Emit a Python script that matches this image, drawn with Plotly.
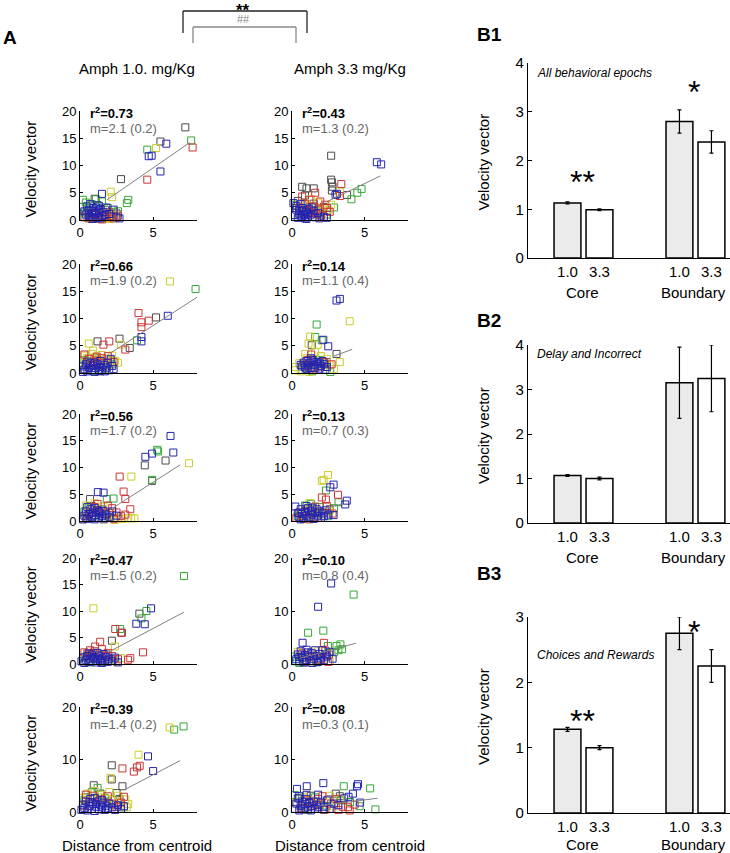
import plotly.graph_objects as go

# ---------------- data ----------------
# Panel A: velocity vector vs distance from centroid, per animal colour
r1L_k = [(7.2,17.0),(5.5,14.4),(2.8,7.5),(1.0,3.9),(0.5,1.3),(1.3,2.6),(2.0,0.8),(0.3,0.5),(1.7,1.9),(2.5,1.2),(0.8,0.2)]
r1L_g = [(7.6,14.6),(4.6,12.9),(3.3,3.7),(3.2,3.1),(0.2,3.7),(0.4,3.2),(0.8,2.9),(1.5,3.4),(1.1,3.8),(2.3,1.5),(0.2,2.4),(0.6,2.2),(1.9,2.2),(0.3,1.4),(2.6,1.6)]
r1L_y = [(5.2,13.2),(2.1,5.2),(2.2,4.2),(1.9,0.4),(2.2,0.9),(1.4,0.2),(0.9,0.3),(1.6,1.0),(2.4,0.6),(1.2,0.6),(2.0,0.2),(0.5,0.4),(1.7,0.3)]
r1L_r = [(7.7,13.3),(4.6,7.4),(1.8,0.5),(2.3,0.3),(1.1,0.4),(0.6,0.3),(2.0,1.4),(1.3,0.9),(2.6,0.8),(0.2,0.6),(1.5,0.1),(2.1,0.7),(0.9,1.1),(1.7,0.6)]
r1L_b = [(5.9,14.0),(4.9,11.8),(4.7,11.7),(5.5,8.9),(1.5,4.8),(0.4,1.0),(0.6,1.8),(0.7,0.6),(0.8,1.3),(0.9,2.2),(1.0,0.9),(1.1,1.6),(1.2,0.4),(1.3,1.2),(1.4,2.0),(1.5,0.7),(1.6,1.5),(0.5,2.5),(0.9,0.2),(1.2,2.7),(1.7,0.9),(2.0,1.1),(2.7,0.3),(0.3,1.6),(1.0,1.3),(0.7,2.9),(1.4,0.3),(1.8,2.3),(2.3,1.9),(0.6,0.8),(1.1,2.3),(0.8,0.5),(1.3,1.8),(2.5,0.5)]

r1R_k = [(2.7,11.8),(2.7,7.4),(2.75,6.9),(2.8,6.1),(2.75,5.4),(0.7,6.1),(1.0,5.8),(1.5,5.8),(3.8,4.6),(0.4,3.5),(0.9,4.5),(1.5,3.0),(2.2,2.4),(1.2,1.3),(0.3,2.2),(1.9,1.0)]
r1R_g = [(4.8,5.7),(4.5,5.0),(4.1,3.8),(2.9,2.3),(0.2,2.8),(1.0,2.2),(1.8,1.6),(2.4,1.0),(0.5,1.0),(1.4,0.6)]
r1R_y = [(3.3,5.2),(2.7,2.8),(1.3,3.8),(2.2,2.1),(1.8,3.2),(2.5,1.8),(1.0,2.9),(2.1,1.3),(0.7,1.5),(1.6,2.4)]
r1R_r = [(3.4,6.6),(1.6,5.0),(3.3,4.4),(0.7,4.3),(1.2,3.7),(1.95,3.4),(0.9,3.0),(1.5,2.5),(2.3,2.8),(0.5,2.3),(1.1,1.8),(1.8,1.9),(2.4,2.2),(0.8,1.2),(1.4,1.4),(2.0,0.8),(2.6,1.5),(1.7,1.1)]
r1R_b = [(5.85,10.6),(6.15,10.2),(3.1,4.8),(3.0,4.6),(0.1,3.1),(0.3,2.6),(0.5,1.6),(0.6,0.8),(0.7,2.2),(0.8,1.0),(0.9,0.3),(1.0,1.5),(1.1,0.6),(1.2,2.0),(0.4,0.4),(0.5,1.2),(0.6,2.9),(0.8,1.8),(0.9,0.9),(1.0,0.2),(1.3,1.0),(1.4,2.3),(1.6,0.5),(1.8,1.3),(2.2,0.6),(2.4,0.4),(0.3,1.9),(0.7,0.5),(1.1,1.2),(1.5,1.7),(0.2,0.9),(1.9,0.3)]

r2L_k = [(5.2,10.2),(1.2,5.8),(2.7,6.3),(3.4,4.6),(0.5,1.9),(1.0,2.7),(1.6,1.2),(2.1,2.3),(0.3,0.7),(1.4,0.3)]
r2L_g = [(7.9,15.4),(3.9,6.0),(0.3,2.4),(0.7,1.8),(1.3,2.2),(1.8,0.8),(2.2,1.6),(0.9,0.4)]
r2L_y = [(6.15,16.8),(2.8,5.2),(0.6,5.4),(0.9,4.1),(2.6,1.9),(0.3,3.2),(0.5,2.8),(0.8,3.5),(1.1,3.0),(1.3,2.4),(1.5,3.3),(0.4,2.0),(1.8,2.6),(2.2,3.2),(2.4,2.2),(1.0,1.6),(2.0,1.4)]
r2L_r = [(4.0,11.0),(4.2,9.3),(4.7,9.6),(4.2,8.4),(2.0,5.8),(1.6,5.2),(3.1,4.3),(0.3,3.4),(1.15,3.0),(1.5,2.7),(1.2,2.3),(1.0,2.0),(0.6,2.6),(1.9,3.1),(1.4,1.8),(2.3,2.0),(0.8,1.5)]
r2L_b = [(6.0,10.5),(4.2,6.6),(4.2,5.8),(2.1,2.6),(0.2,1.2),(0.3,0.6),(0.4,1.6),(0.5,0.3),(0.6,1.0),(0.7,1.8),(0.8,0.5),(0.9,1.3),(1.0,0.2),(1.1,0.9),(1.2,1.6),(1.3,0.4),(1.4,1.1),(1.5,0.6),(1.6,1.5),(1.7,0.3),(1.8,1.0),(2.0,0.5),(2.2,1.3),(2.3,0.7),(0.5,2.1),(1.0,1.9),(1.4,2.2),(0.8,0.9),(1.9,1.9),(0.2,0.2)]

r2R_k = [(1.36,5.1),(3.07,3.5),(0.8,1.6),(1.5,2.5),(2.0,1.3),(1.2,0.9),(2.4,2.0)]
r2R_g = [(1.7,8.9),(1.6,6.6),(2.05,6.0),(2.64,0.2),(1.0,1.0),(1.9,2.4),(2.3,1.7),(0.7,0.6),(1.4,0.3)]
r2R_y = [(3.98,9.5),(1.25,6.7),(1.77,5.2),(1.14,5.4),(0.91,3.5),(3.3,2.0),(0.23,1.1),(2.16,1.1),(0.2,0.5),(0.5,1.8),(1.6,3.8),(2.0,3.1),(2.6,1.4),(2.9,0.7),(1.2,0.2),(0.6,0.3),(2.4,2.6),(1.0,2.7)]
r2R_r = [(1.32,3.4),(2.73,1.6),(1.1,2.4),(1.8,1.2),(2.2,2.0),(0.9,1.4),(1.5,0.8)]
r2R_b = [(3.07,13.3),(3.3,13.6),(2.16,6.1),(2.5,4.9),(0.6,1.5),(0.8,1.9),(0.9,1.0),(1.0,2.2),(1.1,1.4),(1.2,1.8),(1.3,0.9),(1.4,2.4),(1.5,1.5),(1.6,1.0),(1.7,2.0),(1.8,1.7),(1.9,0.8),(2.0,1.3),(2.1,2.2),(2.2,1.6),(2.4,1.1),(1.0,0.7),(1.3,2.7),(0.7,1.2),(1.5,2.1),(1.9,1.9),(2.3,0.6)]

r3L_k = [(4.43,10.4),(5.85,11.3),(4.93,7.5),(0.69,4.1),(1.2,2.0),(0.4,0.6),(2.0,1.5),(1.6,0.3),(0.8,2.8)]
r3L_g = [(5.28,13.3),(5.34,13.0),(4.93,7.7),(1.83,4.1),(2.29,4.2),(0.3,1.8),(0.9,0.9),(1.5,2.2),(2.1,0.7),(0.6,2.5)]
r3L_y = [(7.45,10.8),(3.51,8.3),(3.72,0.5),(3.5,0.5),(3.3,0.5),(2.9,0.4),(2.6,0.6),(0.2,0.3),(0.6,0.5),(1.0,3.3),(1.6,2.7),(2.2,1.2),(0.4,2.9),(2.4,0.2),(1.9,0.6)]
r3L_r = [(2.71,8.3),(2.98,5.5),(3.1,4.1),(3.44,2.2),(1.9,2.9),(2.5,1.6),(2.2,2.4),(1.4,1.9),(1.0,2.6),(0.7,1.5),(2.8,0.9),(3.1,1.2),(1.7,1.3),(2.3,0.4),(0.5,0.9),(1.2,3.2)]
r3L_b = [(6.19,15.9),(6.38,12.8),(4.47,12.0),(4.93,12.6),(1.61,5.3),(1.22,5.4),(0.3,1.0),(0.4,1.8),(0.5,0.4),(0.6,1.3),(0.7,2.2),(0.8,0.7),(0.9,1.6),(1.0,0.3),(1.1,1.1),(1.2,2.0),(1.3,0.6),(1.4,1.4),(1.5,0.9),(1.6,1.9),(1.7,0.5),(1.8,1.2),(2.0,0.8),(0.5,2.6),(1.0,2.4),(1.3,1.7),(0.8,1.0),(2.2,1.8),(2.5,1.0),(0.2,0.3)]

r3R_k = [(0.5,1.6),(1.1,2.2),(1.6,0.8),(2.2,1.6),(0.8,0.4),(2.6,2.2)]
r3R_g = [(2.34,5.7),(3.21,3.5),(0.9,2.9),(1.3,3.2),(1.9,2.6),(0.4,0.9),(1.7,1.5),(2.5,0.9),(2.9,2.4),(1.1,0.6)]
r3R_y = [(2.48,8.6),(2.18,7.7),(2.06,7.5),(1.2,3.4),(1.5,2.2),(2.0,1.2),(0.6,1.2),(2.6,1.9),(1.0,0.4)]
r3R_r = [(3.17,4.9),(2.06,4.4),(2.34,4.0),(0.3,0.6),(0.7,0.9),(1.3,1.4),(1.8,0.6),(2.4,2.8),(1.6,2.7),(0.9,1.9),(2.8,1.4),(1.2,0.3)]
r3R_b = [(2.87,6.8),(2.64,6.3),(3.78,3.8),(3.67,3.1),(0.23,2.7),(2.87,1.1),(0.4,1.5),(0.5,0.7),(0.6,2.2),(0.7,1.3),(0.8,0.5),(0.9,1.7),(1.0,1.0),(1.1,2.4),(1.2,0.7),(1.3,1.9),(1.4,1.2),(1.5,0.4),(1.6,1.6),(1.7,2.2),(1.8,1.0),(1.9,1.8),(2.0,0.6),(2.1,1.4),(2.3,2.0),(2.5,1.2),(1.0,2.8),(0.6,0.3),(1.4,2.5),(2.2,0.9)]

r4L_k = [(4.06,9.5),(2.82,5.9),(2.18,4.4),(0.5,1.5),(1.2,0.6),(1.8,1.8),(0.9,2.1),(2.3,0.9)]
r4L_g = [(7.11,16.6),(4.2,8.6),(4.54,10.0),(2.75,6.6),(0.3,1.3),(1.0,1.0),(1.6,0.4),(0.7,0.3)]
r4L_y = [(0.92,10.5),(2.39,3.3),(2.82,1.1),(0.3,0.3),(1.3,1.6),(2.0,0.8),(2.5,0.4),(0.6,1.9)]
r4L_r = [(2.41,6.6),(2.87,5.9),(1.38,4.2),(1.03,3.3),(0.69,2.6),(4.31,2.2),(3.44,1.1),(3.28,0.8),(0.5,2.0),(1.0,2.4),(1.5,2.8),(1.9,2.1),(2.2,1.5),(0.8,1.4),(1.4,0.9),(2.6,0.9),(0.3,2.2),(1.7,1.5)]
r4L_b = [(4.86,10.5),(3.85,7.6),(4.43,7.5),(0.1,0.5),(0.2,1.2),(0.3,0.2),(0.4,0.8),(0.5,1.5),(0.6,0.4),(0.7,1.0),(0.8,1.8),(0.9,0.6),(1.0,1.3),(1.1,0.3),(1.2,0.9),(1.3,1.6),(1.4,0.5),(1.5,1.1),(1.6,1.9),(1.7,0.7),(1.8,1.3),(1.9,0.4),(2.0,1.0),(2.2,0.6),(2.4,1.2),(2.6,0.3),(0.6,2.0),(1.2,2.1),(0.9,1.1),(1.5,0.2)]

r4R_k = [(0.6,1.4),(1.3,2.1),(1.9,0.7),(2.4,1.6),(0.9,0.3)]
r4R_g = [(4.25,13.1),(2.16,6.3),(1.11,5.9),(3.34,3.7),(3.45,2.8),(3.07,3.4),(2.48,3.4),(0.27,0.5),(0.2,1.4),(0.5,0.2),(1.0,0.7),(2.9,2.2),(3.2,2.6),(1.7,0.3)]
r4R_y = [(0.4,2.3),(1.1,1.2),(1.8,2.4),(2.6,0.5),(0.8,0.6)]
r4R_r = [(2.2,4.0),(2.55,1.8),(1.5,1.6),(2.0,0.9),(2.5,0.4),(1.2,0.5),(2.3,2.5),(0.7,2.0)]
r4R_b = [(2.7,15.2),(1.8,10.8),(0.73,4.0),(0.3,0.9),(0.4,1.8),(0.5,0.5),(0.6,2.4),(0.7,1.2),(0.8,0.3),(0.9,1.7),(1.0,0.8),(1.1,2.2),(1.2,1.4),(1.3,0.6),(1.4,2.0),(1.5,1.0),(1.6,2.6),(1.7,1.5),(1.8,0.4),(1.9,1.9),(2.0,1.2),(2.1,2.6),(2.2,0.7),(2.4,1.4),(2.6,2.3),(2.8,1.0),(1.0,2.7),(0.5,1.3),(1.4,0.2),(2.3,1.8)]

r5L_k = [(2.17,8.9),(2.9,4.9),(2.17,6.2),(0.94,5.1),(0.4,2.8),(1.4,3.5),(2.5,3.6),(1.9,2.0),(0.7,1.2),(2.7,2.5)]
r5L_g = [(7.08,16.3),(6.44,15.7),(0.8,3.8),(1.2,4.6),(0.3,2.3),(1.7,2.7),(2.3,1.4),(3.0,0.9)]
r5L_y = [(6.13,16.1),(4.0,10.9),(2.08,6.5),(0.5,3.5),(1.0,4.0),(1.5,3.2),(2.0,3.8),(2.6,3.1),(3.1,2.4),(3.3,1.5),(0.2,2.7),(1.8,2.5),(2.4,2.2),(0.7,2.4),(1.3,2.8),(3.2,0.9)]
r5L_r = [(2.9,8.3),(3.68,7.7),(4.08,8.8),(3.9,8.5),(0.4,3.3),(0.9,3.1),(1.4,2.4),(1.9,3.0),(2.2,1.6),(2.8,1.8),(0.6,1.9),(1.1,1.5),(2.5,1.0),(3.0,2.9),(0.2,1.2)]
r5L_b = [(4.65,10.6),(5.0,7.8),(0.1,0.4),(0.2,1.4),(0.3,0.8),(0.4,2.0),(0.5,0.3),(0.6,1.1),(0.7,2.5),(0.8,0.6),(0.9,1.6),(1.0,0.2),(1.1,1.0),(1.2,2.0),(1.3,0.5),(1.4,1.4),(1.5,0.9),(1.6,1.8),(1.7,0.4),(1.8,1.2),(1.9,0.7),(2.0,1.6),(2.2,0.9),(2.4,0.4),(2.6,1.3),(2.8,0.6),(1.0,2.7),(1.5,2.3),(0.8,1.9),(3.0,1.1)]

r5R_k = [(3.02,3.5),(3.3,3.0),(0.5,2.6),(1.3,3.1),(1.9,1.4),(2.5,2.4),(0.9,0.8),(2.2,0.4)]
r5R_g = [(3.57,4.9),(5.39,4.5),(5.75,0.5),(4.66,1.1),(0.2,3.2),(0.7,1.2),(1.6,2.8),(2.4,1.2),(4.0,1.9),(3.4,2.2),(1.1,0.4)]
r5R_y = [(1.02,3.6),(2.6,3.1),(0.3,1.8),(1.4,2.2),(2.0,1.6),(2.9,1.1),(0.8,2.8),(3.3,2.5)]
r5R_r = [(3.98,0.3),(3.86,0.9),(4.32,1.4),(3.07,2.5),(2.7,1.6),(2.3,0.5),(1.8,2.5),(1.2,1.9),(0.6,0.7),(3.5,1.0),(2.1,3.0),(1.5,1.2),(0.9,2.2),(3.2,0.4)]
r5R_b = [(2.16,5.5),(0.34,4.4),(1.02,4.9),(4.55,5.3),(4.48,4.9),(4.2,3.5),(4.7,1.8),(0.2,0.6),(0.3,1.6),(0.4,2.6),(0.5,0.3),(0.6,1.2),(0.7,2.0),(0.8,0.5),(0.9,1.5),(1.0,2.5),(1.1,0.9),(1.2,1.7),(1.3,0.3),(1.4,1.1),(1.5,2.0),(1.6,0.6),(1.7,1.4),(1.8,0.9),(2.0,1.8),(2.2,1.0),(2.4,2.2),(2.6,0.6),(2.9,1.6),(3.2,1.3),(3.6,2.6),(3.9,2.9),(1.0,3.2),(0.5,3.0),(1.8,3.3)]

# regression lines (slope, intercept, x extent) per panel, row-major L,R
fit_m  = [1.86, 1.28, 1.73, 1.00, 1.75, 0.75, 1.46, 0.73, 1.46, 0.36]
fit_b  = [0.26, 0.28, 0.06, 0.20, -1.50, 0.60, -0.60, 0.70, -0.20, 0.50]
fit_x0 = [1.85, 2.40, 2.05, 2.90, 2.30, 2.30, 2.05, 0.55, 3.10, 1.95]
fit_x1 = [7.50, 6.10, 8.00, 4.15, 6.85, 3.50, 7.10, 4.40, 6.85, 5.90]
r2_labels = ["0.73", "0.43", "0.66", "0.14", "0.56", "0.13", "0.47", "0.10", "0.39", "0.08"]
m_labels = ["2.1 (0.2)", "1.3 (0.2)", "1.9 (0.2)", "1.1 (0.4)", "1.7 (0.2)",
            "0.7 (0.3)", "1.5 (0.2)", "0.8 (0.4)", "1.4 (0.2)", "0.3 (0.1)"]

# Panel B: bar charts
bar_groups = ["1.0", "3.3", "1.0", "3.3"]
B1_mean = [1.13, 0.99, 2.80, 2.38]
B1_err = [0.02, 0.02, 0.24, 0.23]
B2_mean = [1.07, 1.00, 3.15, 3.25]
B2_err = [0.02, 0.03, 0.80, 0.75]
B3_mean = [1.28, 1.00, 2.75, 2.25]
B3_err = [0.03, 0.03, 0.25, 0.25]

# ---------------- layout helpers ----------------
W, H = 730, 853
def px(x): return x / W
def py(y): return 1 - y / H

FONT = "Liberation Sans, Arial, Helvetica, sans-serif"
COLORS = {'k': '#4a4a4a', 'g': '#35a835', 'y': '#cccc2e', 'r': '#cc3535', 'b': '#2424b0'}

panels = [
    {'k': r1L_k, 'g': r1L_g, 'y': r1L_y, 'r': r1L_r, 'b': r1L_b},
    {'k': r1R_k, 'g': r1R_g, 'y': r1R_y, 'r': r1R_r, 'b': r1R_b},
    {'k': r2L_k, 'g': r2L_g, 'y': r2L_y, 'r': r2L_r, 'b': r2L_b},
    {'k': r2R_k, 'g': r2R_g, 'y': r2R_y, 'r': r2R_r, 'b': r2R_b},
    {'k': r3L_k, 'g': r3L_g, 'y': r3L_y, 'r': r3L_r, 'b': r3L_b},
    {'k': r3R_k, 'g': r3R_g, 'y': r3R_y, 'r': r3R_r, 'b': r3R_b},
    {'k': r4L_k, 'g': r4L_g, 'y': r4L_y, 'r': r4L_r, 'b': r4L_b},
    {'k': r4R_k, 'g': r4R_g, 'y': r4R_y, 'r': r4R_r, 'b': r4R_b},
    {'k': r5L_k, 'g': r5L_g, 'y': r5L_y, 'r': r5L_r, 'b': r5L_b},
    {'k': r5R_k, 'g': r5R_g, 'y': r5R_y, 'r': r5R_r, 'b': r5R_b},
]
col_px = [(80, 197), (292, 408)]
row_px = [(111, 220), (264, 373), (414, 521), (558, 664), (707, 812)]
ytick_sets = [[0, 5, 10, 15, 20]] * 7 + [[0, 10, 20]] * 3

fig = go.Figure()
layout = dict(width=W, height=H, margin=dict(l=0, r=0, t=0, b=0, pad=0, autoexpand=False),
              autosize=False, paper_bgcolor='white', plot_bgcolor='rgba(0,0,0,0)',
              showlegend=False, font=dict(family=FONT, color='black'))
annotations = []
shapes = []

def ann(text, x, y, size=13, color='black', xanchor='center', yanchor='middle', angle=0):
    annotations.append(dict(text=text, x=px(x), y=py(y), xref='paper', yref='paper',
                            showarrow=False, xanchor=xanchor, yanchor=yanchor,
                            textangle=angle, font=dict(size=size, color=color, family=FONT)))

for i, pdata in enumerate(panels):
    n = i + 1
    row, col = i // 2, i % 2
    xs = f'x{n}' if n > 1 else 'x'
    ys = f'y{n}' if n > 1 else 'y'
    for c in ['k', 'g', 'y', 'r', 'b']:
        pts = pdata[c]
        fig.add_trace(go.Scatter(
            x=[p[0] for p in pts], y=[p[1] for p in pts], mode='markers',
            xaxis=xs, yaxis=ys, cliponaxis=False,
            marker=dict(symbol='square-open', size=7, color=COLORS[c],
                        line=dict(width=1, color=COLORS[c]))))
    lx = [fit_x0[i], fit_x1[i]]
    fig.add_trace(go.Scatter(x=lx, y=[fit_m[i] * v + fit_b[i] for v in lx], mode='lines',
                             xaxis=xs, yaxis=ys, line=dict(color='#808080', width=1)))
    x0, x1 = col_px[col]
    ytop, ybot = row_px[row]
    axkey = 'xaxis' if n == 1 else f'xaxis{n}'
    aykey = 'yaxis' if n == 1 else f'yaxis{n}'
    layout[axkey] = dict(domain=[px(x0), px(x1)], range=[0, 8], anchor=ys, automargin=False,
                         showline=True, linecolor='black', linewidth=1, tickvals=[0, 5],
                         ticks='inside', ticklen=3, tickcolor='black', showgrid=False, zeroline=False,
                         tickfont=dict(size=13, family=FONT))
    layout[aykey] = dict(domain=[py(ybot), py(ytop)], range=[0, 20], anchor=xs, automargin=False,
                         showline=True, linecolor='black', linewidth=1, tickvals=ytick_sets[i],
                         ticks='inside', ticklen=3, tickcolor='black', showgrid=False, zeroline=False,
                         tickfont=dict(size=13, family=FONT))
    ann(f"<b>r<sup>2</sup>={r2_labels[i]}</b>", x0 + 8, ytop + 2, size=13, xanchor='left')
    ann(f"m={m_labels[i]}", x0 + 8, ytop + 17, size=13, color='#666666', xanchor='left')
    if col == 0:
        ann("Velocity vector", 30, (ytop + ybot) / 2 + 4, size=15, angle=-90)

# bar charts
bar_pos = [1, 2, 4.5, 5.5]
bar_cols = ['#ebebeb', 'white', '#ebebeb', 'white']
bar_sets = [(B1_mean, B1_err, (63, 258), [0, 1, 2, 3, 4], [0, 4]),
            (B2_mean, B2_err, (345, 523), [0, 1, 2, 3, 4], [0, 4]),
            (B3_mean, B3_err, (617, 813), [0, 1, 2, 3], [0, 3])]
for j, (mean, err, (ytop, ybot), ytv, yr) in enumerate(bar_sets):
    n = 11 + j
    xs, ys = f'x{n}', f'y{n}'
    fig.add_trace(go.Bar(x=bar_pos, y=mean, xaxis=xs, yaxis=ys, width=0.84,
                         marker=dict(color=bar_cols, line=dict(color='black', width=1.5)),
                         error_y=dict(type='data', array=err, visible=True, color='black',
                                      thickness=1.2, width=2)))
    layout[f'xaxis{n}'] = dict(domain=[px(528), 1.0], range=[-0.234, 6.08], anchor=ys,
                               automargin=False,
                               showline=True, linecolor='black', linewidth=1.2,
                               tickvals=bar_pos, ticktext=bar_groups, ticks='',
                               showgrid=False, zeroline=False, tickfont=dict(size=15, family=FONT))
    layout[f'yaxis{n}'] = dict(domain=[py(ybot), py(ytop)], range=yr, anchor=xs, automargin=False,
                               showline=True, linecolor='black', linewidth=1.2, tickvals=ytv,
                               ticks='inside', ticklen=4, tickcolor='black', showgrid=False,
                               zeroline=False, tickfont=dict(size=15, family=FONT))
    lab_y = min(ybot + 34, 844)
    ann("Core", 582, lab_y, size=15)
    ann("Boundary", 693, lab_y, size=15)
    ann("Velocity vector", 483, (ytop + ybot) / 2 + 2, size=15, angle=-90)

# bar annotations
ann("<i>All behavioral epochs</i>", 535, 73, size=12, xanchor='left')
ann("<i>Delay and Incorrect</i>", 535, 354, size=12, xanchor='left')
ann("<i>Choices and Rewards</i>", 535, 655, size=12, xanchor='left')
ann("**", 582, 182, size=32)
ann("*", 694, 92, size=32)
ann("**", 582, 721, size=32)
ann("*", 694, 632, size=32)
ann("<b>B1</b>", 489, 35, size=19)
ann("<b>B2</b>", 489, 320, size=19)
ann("<b>B3</b>", 489, 573, size=19)

# panel A titles
ann("<b>A</b>", 10, 37, size=19)
ann("Amph 1.0. mg/Kg", 137, 69, size=15)
ann("Amph 3.3 mg/Kg", 350, 69, size=15)
ann("Distance from centroid", 137, 845, size=15)
ann("Distance from centroid", 350, 845, size=15)
ann("<b>**</b>", 243, 10, size=17)
ann("##", 243, 19, size=11, color='#888888')

def seg(x0, y0, x1, y1, color, w=1.3):
    shapes.append(dict(type='line', xref='paper', yref='paper', x0=px(x0), y0=py(y0),
                       x1=px(x1), y1=py(y1), line=dict(color=color, width=w)))
seg(183, 33, 183, 11, '#222222'); seg(183, 11, 307, 11, '#222222'); seg(307, 11, 307, 33, '#222222')
seg(193, 43, 193, 27, '#888888'); seg(193, 27, 296, 27, '#888888'); seg(296, 27, 296, 43, '#888888')

layout['annotations'] = annotations
layout['shapes'] = shapes
fig.update_layout(**layout)
fig.write_html("out.html", config={'displayModeBar': False},
               post_script="document.body.style.margin='0';document.body.style.overflow='hidden';")
